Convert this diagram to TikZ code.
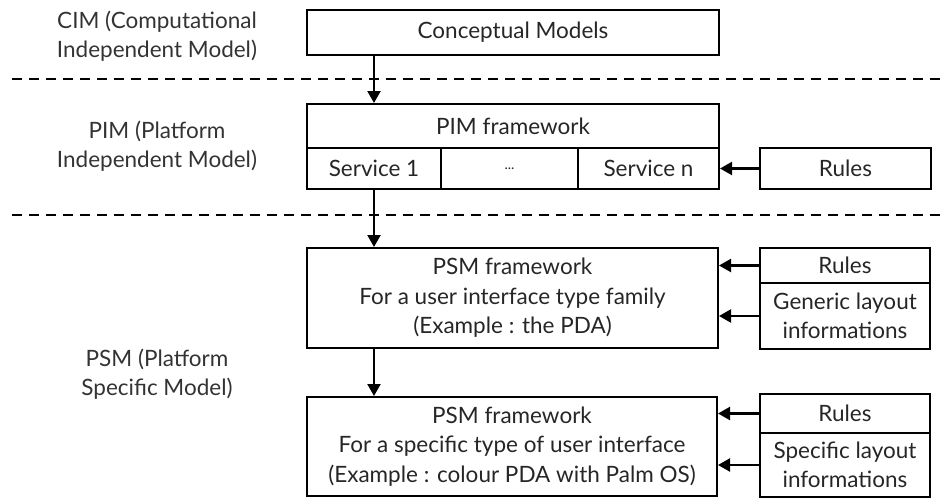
\documentclass[tikz,border=0pt]{standalone}
\usepackage{fontspec}
\setmainfont{Lato}
\usetikzlibrary{arrows.meta}
\tikzset{
 box/.style={draw,line width=2pt,inner sep=0pt,align=center,text=black!85},
 level/.style={align=center,text=black!80},
 flow/.style={line width=2.2pt,-{Triangle[length=12pt,width=13pt]}},
 layer/.style={line width=1.8pt,dash pattern=on 10pt off 7pt}
}
\begin{document}
\begin{tikzpicture}[
 x=1pt,y=-1pt,
 font=\fontsize{22.5}{29.5}\selectfont
]
\useasboundingbox (0,0) rectangle (941,498);
\node[level] (cimlabel) at (157,36) {CIM (Computational\\Independent Model)};
\node[level] (pimlabel) at (157,146) {PIM (Platform\\Independent Model)};
\node[level] (psmlabel) at (157,374) {PSM (Platform\\Specific Model)};
\draw[layer] (12,79) -- (941,79);
\draw[layer] (12,215) -- (941,215);
\node[box,minimum width=412,minimum height=45] (cm) at (513,32.5) {Conceptual Models};
\node[box,minimum width=412,minimum height=44] (pim) at (513,126) {PIM framework};
\node[box,minimum width=134,minimum height=41] (s1) at (374,168.5) {Service 1};
\node[box,minimum width=137,minimum height=41] (sdots) at (509.5,168.5) {\fontsize{14}{14}\selectfont ...};
\node[box,minimum width=141,minimum height=41] (sn) at (648.5,168.5) {Service n};
\node[box,minimum width=171,minimum height=41] (rulespim) at (845.5,168.5) {Rules};
\node[box,minimum width=411,minimum height=100] (psmfam) at (512.5,298) {PSM framework\\For a user interface type family\\(Example : the PDA)};
\node[box,minimum width=170,minimum height=35] (rulesfam) at (845,265.5) {Rules};
\node[box,minimum width=170,minimum height=66] (genfam) at (845,316) {Generic layout\\informations};
\node[box,minimum width=410,minimum height=99] (psmspec) at (512,446.5) {PSM framework\\For a specific type of user interface\\(Example : colour PDA with Palm OS)};
\node[box,minimum width=170,minimum height=39] (rulesspec) at (845,413.5) {Rules};
\node[box,minimum width=170,minimum height=64] (specspec) at (845,465) {Specific layout\\informations};
\draw[flow] (cm.south -| s1) -- (pim.north -| s1);
\draw[flow] (s1.south) -- (psmfam.north -| s1);
\draw[flow] (psmfam.south -| s1) -- (psmspec.north -| s1);
\draw[flow] (rulespim.west) -- (sn.east);
\draw[flow] (rulesfam.west) -- (rulesfam.west -| psmfam.east);
\draw[flow] (genfam.west) -- (genfam.west -| psmfam.east);
\draw[flow] (rulesspec.west) -- (rulesspec.west -| psmspec.east);
\draw[flow] (specspec.west) -- (specspec.west -| psmspec.east);
\end{tikzpicture}
\end{document}
